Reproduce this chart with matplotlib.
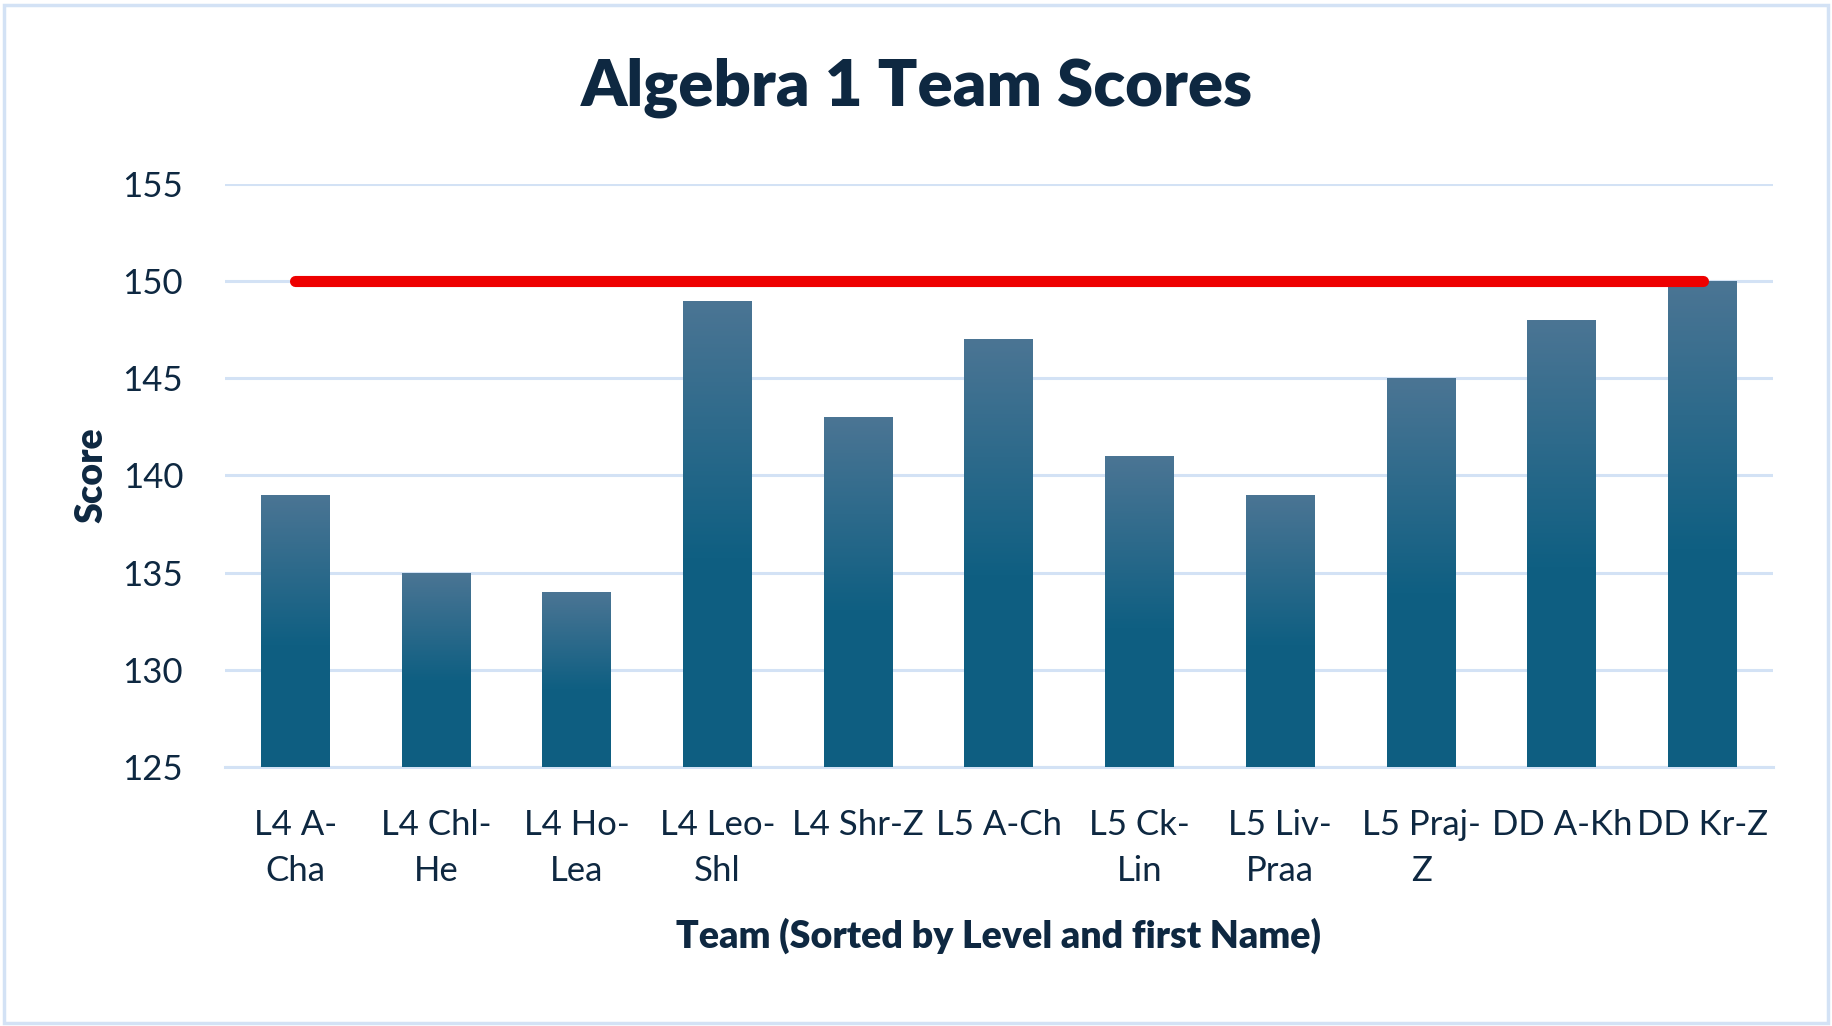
import numpy as np
import matplotlib.pyplot as plt
from matplotlib.patches import Rectangle
from matplotlib.colors import LinearSegmentedColormap

teams = ["L4 A-\nCha", "L4 Chl-\nHe", "L4 Ho-\nLea", "L4 Leo-\nShl", "L4 Shr-Z",
         "L5 A-Ch", "L5 Ck-\nLin", "L5 Liv-\nPraa", "L5 Praj-\nZ", "DD A-Kh", "DD Kr-Z"]
scores = [139, 135, 134, 149, 143, 147, 141, 139, 145, 148, 150]
target = 150

plt.rcParams['font.family'] = ['Lato', 'DejaVu Sans']
text_color = "#0E2841"
grid_color = "#D3E2F5"

fig = plt.figure(figsize=(18.33, 10.26), dpi=100)
ax = fig.add_axes([0.1227, 0.2525, 0.8445, 0.5682])

x = np.arange(len(teams))
bars = ax.bar(x, scores, width=0.49, color="#0F5F82", zorder=2)

# vertical gradient inside each bar
cmap = LinearSegmentedColormap.from_list("g", [(0, "#0E5E81"), (0.45, "#0F5F82"), (1, "#4B7594")])
grad = np.linspace(0, 1, 256).reshape(-1, 1)
for b in bars:
    x0 = b.get_x()
    w = b.get_width()
    h = b.get_height()
    im = ax.imshow(grad, cmap=cmap, aspect="auto", origin="lower",
                   extent=(x0, x0 + w, 125, h), zorder=3)
    im.set_clip_path(b)

ax.plot([x[0], x[-1]], [target, target], color="#EE0000", lw=8,
        solid_capstyle="round", zorder=4)

ax.set_xlim(-0.5, len(teams) - 0.5)
ax.set_ylim(125, 155)
ax.set_yticks(range(125, 156, 5))
ax.set_xticks(x)
ax.set_xticklabels(teams, fontsize=25, color=text_color, linespacing=1.55)
ax.tick_params(axis="y", labelsize=25, labelcolor=text_color, length=0, pad=30)
ax.tick_params(axis="x", length=0, pad=30)
ax.yaxis.grid(True, color=grid_color, lw=2.2, zorder=0)
ax.set_axisbelow(True)
for s in ["top", "right", "left"]:
    ax.spines[s].set_visible(False)
ax.spines["bottom"].set_color(grid_color)
ax.spines["bottom"].set_linewidth(2.2)

ax.set_ylabel("Score", fontsize=27, fontweight="heavy", color=text_color, labelpad=10)
ax.set_xlabel("Team (Sorted by Level and first Name)", fontsize=27,
              fontweight="heavy", color=text_color, labelpad=22)

fig.text(0.5, 0.914, "Algebra 1 Team Scores", ha="center", va="center",
         fontsize=47, fontweight="heavy", color=text_color)

fig.patches.append(Rectangle((0.002, 0.003), 0.995, 0.992, transform=fig.transFigure,
                             fill=False, edgecolor=grid_color, lw=2.5))

fig.savefig("out.png", dpi=100)
